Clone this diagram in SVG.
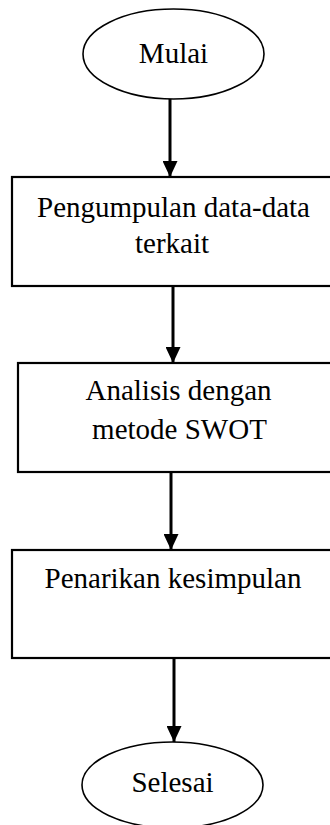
<svg xmlns="http://www.w3.org/2000/svg" width="330" height="825" viewBox="0 0 330 825">
<style>
.box{fill:#fff;stroke:#000;stroke-width:2.2}
.term{fill:#fff;stroke:#000;stroke-width:1.6}
.lbl{font-family:"Liberation Serif","Times New Roman",serif;font-size:29px;fill:#000;text-anchor:middle}
.conn{stroke:#000;stroke-width:3;fill:none}
</style>
<defs>
<marker id="ah" markerUnits="userSpaceOnUse" markerWidth="16" markerHeight="15" refX="16" refY="7.5" orient="auto">
<path d="M0,0 L16,7.5 L0,15 Z" fill="#000"/>
</marker>
</defs>
<g id="connectors">
<line class="conn" x1="170" y1="99" x2="170" y2="177" marker-end="url(#ah)"/>
<line class="conn" x1="173" y1="286" x2="173" y2="363" marker-end="url(#ah)"/>
<line class="conn" x1="171" y1="472" x2="171" y2="550" marker-end="url(#ah)"/>
<line class="conn" x1="174" y1="658" x2="174" y2="742" marker-end="url(#ah)"/>
</g>
<g id="mulai">
<ellipse class="term" cx="173.5" cy="54" rx="90.5" ry="45"/>
<text class="lbl" x="173.5" y="63">Mulai</text>
</g>
<g id="pengumpulan">
<rect class="box" x="12" y="177" width="320" height="109"/>
<text class="lbl" x="173.5" y="217">Pengumpulan data-data</text>
<text class="lbl" x="172" y="253">terkait</text>
</g>
<g id="analisis">
<rect class="box" x="18" y="363" width="314" height="109"/>
<text class="lbl" x="178.5" y="400">Analisis dengan</text>
<text class="lbl" x="179.5" y="439">metode SWOT</text>
</g>
<g id="penarikan">
<rect class="box" x="12" y="550" width="320" height="108"/>
<text class="lbl" x="173" y="588">Penarikan kesimpulan</text>
</g>
<g id="selesai">
<ellipse class="term" cx="172.5" cy="785" rx="90.5" ry="43"/>
<text class="lbl" x="172.5" y="792">Selesai</text>
</g>
</svg>
